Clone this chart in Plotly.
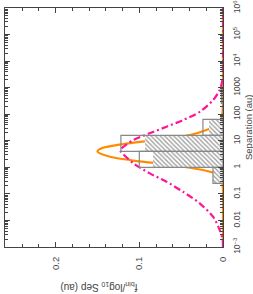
import numpy as np
import plotly.graph_objects as go

# Histogram bins (separation in au, bin edges) and heights
bin_edges_au = [0.25, 1, 4, 16, 64, 256, 1024]
outline_heights = [0.012, 0.100, 0.122, 0.024, 0.0, 0.002]
hatch_heights = [0.012, 0.084, 0.093, 0.017, 0.0, 0.0]

# Orange solid curve (separation au, f)
orange_sep = [1e-3, 0.01, 0.1, 0.25, 0.45, 0.59, 0.79, 1.05, 1.41, 1.88, 2.51, 3.9, 5.2,
              7.55, 10.7, 16.5, 25.4, 39.2, 60.3, 107, 316, 1e4, 1e6]
orange_f = [0.0, 0.0, 0.0, 0.0007, 0.004, 0.0099, 0.0239, 0.0477, 0.0795, 0.111, 0.135,
            0.150, 0.145, 0.119, 0.0795, 0.0397, 0.0198, 0.0079, 0.0027, 0.0007, 0.0, 0.0, 0.0]

# Pink dash-dot curve (separation au, f)
pink_sep = [1e-3, 0.0018, 0.0044, 0.0138, 0.0437, 0.12, 0.288, 0.594, 1.41, 3.9, 4.5,
            10.7, 19.1, 33.9, 60.3, 123, 339, 813, 1950, 1e4, 1e6]
pink_f = [0.0, 0.0003, 0.004, 0.0119, 0.0278, 0.0477, 0.0675, 0.0875, 0.107, 0.122, 0.123,
          0.107, 0.0875, 0.0675, 0.0477, 0.0278, 0.0119, 0.004, 0.0007, 0.0, 0.0]

x_tickvals = [0, 0.1, 0.2]
x_ticktext = ["0", "0.1", "0.2"]
y_tickvals = [1e-3, 1e-2, 1e-1, 1, 10, 100, 1000, 1e4, 1e5, 1e6]
y_ticktext = ["10<sup>−3</sup>", "0.01", "0.1", "1", "10", "100", "1000",
              "10<sup>4</sup>", "10<sup>5</sup>", "10<sup>6</sup>"]

log_edges = np.log10(bin_edges_au)
centers = (log_edges[:-1] + log_edges[1:]) / 2
widths = np.diff(log_edges)

fig = go.Figure()
fig.add_trace(go.Bar(
    x=hatch_heights, y=centers, width=widths, orientation="h", yaxis="y2",
    marker=dict(color="rgba(0,0,0,0)", line=dict(width=0),
                pattern=dict(shape="\\", fgcolor="#3a3a3a", bgcolor="white",
                             size=3.2, solidity=0.4)),
    showlegend=False, hoverinfo="skip"))
fig.add_trace(go.Bar(
    x=outline_heights, y=centers, width=widths, orientation="h", yaxis="y2",
    marker=dict(color="rgba(0,0,0,0)", line=dict(color="#888888", width=1.2)),
    showlegend=False, hoverinfo="skip"))
fig.add_trace(go.Scatter(
    x=orange_f, y=orange_sep, mode="lines",
    line=dict(color="#FF8C00", width=2.2, shape="spline", smoothing=0.8),
    showlegend=False, hoverinfo="skip"))
fig.add_trace(go.Scatter(
    x=pink_f, y=pink_sep, mode="lines",
    line=dict(color="#FF1493", width=2.2, dash="7px,3px,2px,3px", shape="spline", smoothing=0.8),
    showlegend=False, hoverinfo="skip"))

font = dict(family="Liberation Sans, Arial, sans-serif", size=8.5, color="#444444")

fig.update_layout(
    width=253, height=294,
    margin=dict(l=5, r=30, t=8, b=47, autoexpand=False),
    paper_bgcolor="white", plot_bgcolor="white",
    barmode="overlay", bargap=0,
    font=font,
    xaxis=dict(range=[0.2605, 0], tickvals=x_tickvals, ticktext=x_ticktext,
               tickangle=-90, ticks="inside", ticklen=5, tickcolor="#444",
               showline=True, linecolor="#444", linewidth=1, mirror="ticks",
               showgrid=False, zeroline=False, automargin=False, ticklabelstandoff=5,
               tickfont=dict(size=9.5),
               minor=dict(dtick=0.02, tick0=0, ticks="inside", ticklen=3, tickcolor="#444", showgrid=False)),
    yaxis=dict(type="log", range=[-3, 6], side="right",
               tickvals=y_tickvals, ticktext=y_ticktext, tickangle=-90,
               ticks="inside", ticklen=5, tickcolor="#444",
               showline=True, linecolor="#444", linewidth=1, mirror="ticks",
               showgrid=False, zeroline=False, automargin=False, ticklabelstandoff=6,
               ticklabeloverflow="allow",
               minor=dict(dtick="D1", ticks="inside", ticklen=3, tickcolor="#444", showgrid=False)),
    yaxis2=dict(range=[-3, 6], overlaying="y", visible=False),
    annotations=[
        dict(text="Separation (au)", textangle=-90, xref="paper", yref="paper",
             x=1.117, y=0.5, xanchor="center", yanchor="middle", showarrow=False,
             font=dict(size=9.5, color="#444")),
        dict(text="f<sub>bin</sub>/log<sub>10</sub> Sep (au)", textangle=180,
             xref="paper", yref="paper", x=0.43, y=-0.167, showarrow=False,
             xanchor="center", yanchor="middle", font=dict(size=10, color="#444")),
    ],
)
fig.write_html("out.html", config={"displayModeBar": False, "staticPlot": True},
               post_script="document.body.style.margin='0';")
